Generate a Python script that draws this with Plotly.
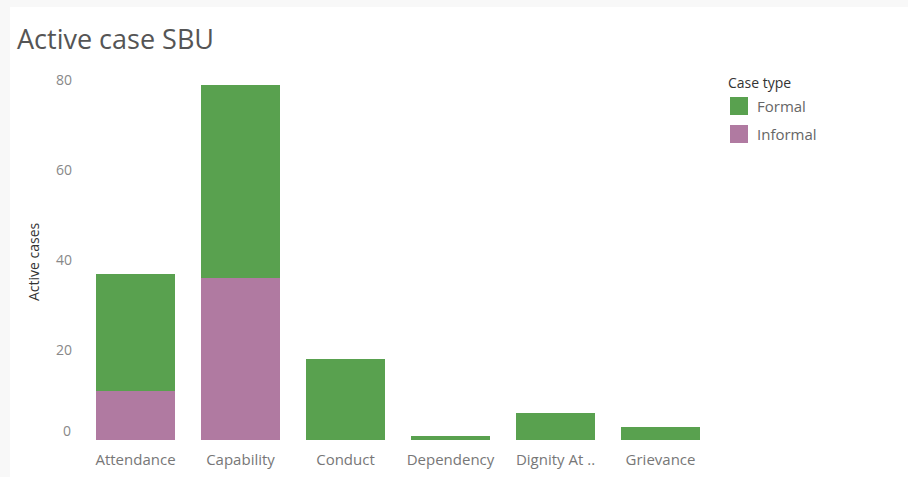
import plotly.graph_objects as go

categories = ["Attendance", "Capability", "Conduct", "Dependency", "Dignity At ..", "Grievance"]
formal = [26, 43, 18, 1, 6, 3]
informal = [11, 36, 0, 0, 0, 0]
y_ticks = [0, 20, 40, 60, 80]
legend_title = "Case type"
legend_names = ["Formal", "Informal"]

GREEN = "#59a14f"
PURPLE = "#b07aa1"
FONT = "Open Sans"

W, H = 908, 477
L, R, T, B = 83, 195, 70, 37
pw, ph = W - L - R, H - T - B

def px_x(p):
    return (p - L) / pw

def px_y(p):
    return (H - B - p) / ph

fig = go.Figure()
fig.add_trace(go.Bar(x=categories, y=informal, name=legend_names[1], marker=dict(color=PURPLE, line=dict(width=0))))
fig.add_trace(go.Bar(x=categories, y=formal, name=legend_names[0], marker=dict(color=GREEN, line=dict(width=0))))

shapes = [dict(
    type="rect", xref="paper", yref="paper", layer="below",
    x0=px_x(10), x1=px_x(W + 5), y0=px_y(H + 5), y1=px_y(7),
    fillcolor="white", line=dict(width=0),
)]
annotations = [
    dict(text="Active case SBU", xref="paper", yref="paper",
         x=px_x(15), y=px_y(38), xanchor="left", yanchor="middle",
         showarrow=False, font=dict(size=27, color="#555555", family=FONT)),
    dict(text="Active cases", xref="paper", yref="paper",
         x=px_x(33), y=px_y(262), xanchor="center", yanchor="middle",
         textangle=-90, showarrow=False,
         font=dict(size=14, color="#333333", family=FONT)),
    dict(text=str(y_ticks[0]), xref="paper", yref="y",
         x=px_x(73), y=y_ticks[0], xanchor="right", yanchor="middle",
         yshift=10, showarrow=False,
         font=dict(size=14, color="#888888", family=FONT)),
    dict(text=legend_title, xref="paper", yref="paper",
         x=px_x(726), y=px_y(82), xanchor="left", yanchor="middle",
         showarrow=False, font=dict(size=14, color="#333333", family=FONT)),
]
for i, (name, col) in enumerate(zip(legend_names, [GREEN, PURPLE])):
    cy = 106 + 28 * i
    shapes.append(dict(
        type="rect", xref="paper", yref="paper",
        x0=px_x(730), x1=px_x(748), y0=px_y(cy + 9), y1=px_y(cy - 9),
        fillcolor=col, line=dict(width=0),
    ))
    annotations.append(dict(
        text=name, xref="paper", yref="paper",
        x=px_x(755), y=px_y(cy), xanchor="left", yanchor="middle",
        showarrow=False, font=dict(size=15, color="#666666", family=FONT),
    ))

fig.update_layout(
    width=W, height=H,
    margin=dict(l=L, r=R, t=T, b=B, pad=0, autoexpand=False),
    barmode="stack",
    bargap=0.25,
    paper_bgcolor="#f8f8f8",
    plot_bgcolor="rgba(0,0,0,0)",
    font=dict(family=FONT, color="#777777", size=14),
    showlegend=False,
    shapes=shapes,
    annotations=annotations,
)

fig.update_xaxes(
    showgrid=False, zeroline=False, showline=False, ticks="",
    tickfont=dict(size=15, color="#777777"),
    ticklabelstandoff=9, automargin=False,
)
fig.update_yaxes(
    range=[0, ph / 4.5],
    tickvals=y_ticks,
    ticktext=[""] + [str(v) for v in y_ticks[1:]],
    showgrid=False, zeroline=False, showline=False, ticks="",
    tickfont=dict(size=14, color="#888888"),
    ticklabelstandoff=10, automargin=False,
)

fig.write_html("out.html")
